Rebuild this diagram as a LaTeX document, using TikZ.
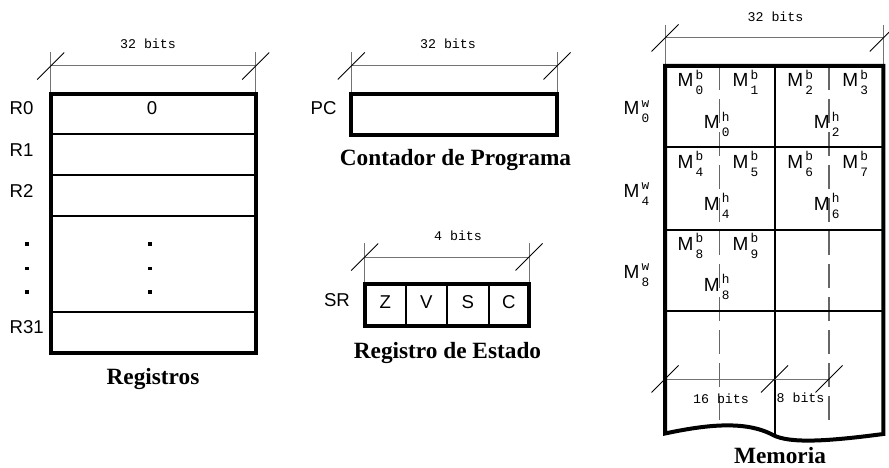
\documentclass[tikz,border=0pt]{standalone}
\usepackage{fontspec}
\setmainfont{Liberation Serif}
\newfontfamily\arialf{Liberation Sans}
\newfontfamily\monof{Liberation Mono}
\newcommand\labf{\arialf\fontsize{18.6}{20}\selectfont}
\newcommand\titf{\bfseries\fontsize{23.3}{26}\selectfont}
\newcommand\dimf{\monof\fontsize{13.3}{15}\selectfont}
\newcommand\smf{\monof\fontsize{12.8}{14}\selectfont}
\newcommand\memM[2]{{\arialf\fontsize{19}{21}\selectfont M}\kern2.2pt\rlap{\raisebox{7.5pt}{\smf #1}}\raisebox{-8pt}{\smf #2}}
\newcommand\dimtick[2]{\draw[tickline] ({#1-13.5},{#2+13.5}) -- ({#1+13.5},{#2-13.5});}
\begin{document}
\begin{tikzpicture}[x=1pt,y=-1pt,
  txt/.style={inner sep=0pt,outer sep=0pt},
  lab/.style={txt,font=\labf,anchor=base west},
  labc/.style={txt,font=\labf,anchor=base},
  ttl/.style={txt,font=\titf,anchor=base},
  dimtxt/.style={txt,font=\dimf,anchor=base},
  mem/.style={txt,anchor=base west},
  thickbox/.style={line width=4pt},
  thinrule/.style={line width=2pt},
  dimline/.style={draw=black!55,line width=1pt},
  tickline/.style={draw=black,line width=0.9pt},
  dashrule/.style={draw=black!60,line width=1.5pt,dash pattern=on 24pt off 9pt}]
\useasboundingbox (0,0) rectangle (889,468);

% ---------------- Registers ----------------
\draw[dimline] (50.7,52) -- (50.7,93);
\draw[dimline] (255.7,52) -- (255.7,93);
\draw[dimline] (50.7,66) -- (255.7,66);
\dimtick{50.7}{66}
\dimtick{255.7}{66}
\node[dimtxt] (regbits) at (148,49) {32 bits};
\foreach \yy in {134,175,216,312} \draw[thinrule] (51.3,\yy) -- (256,\yy);
\draw[thickbox] (51.3,93.7) rectangle (256,352.7);
\node[lab] (r0) at (9.7,115) {R0};
\node[lab] (r1) at (9.7,156.5) {R1};
\node[lab] (r2) at (9.7,197.5) {R2};
\node[lab] (r31) at (9.7,333.5) {R31};
\node[labc] (zero) at (152,115) {0};
\foreach \yy in {243.8,268.5,291.8} {
  \fill (25.4,{\yy-1.8}) rectangle (29,{\yy+1.8});
  \fill (148.2,{\yy-1.8}) rectangle (151.8,{\yy+1.8});
}
\node[ttl] (regtitle) at (153,384) {Registros};

% ---------------- PC ----------------
\draw[dimline] (351.3,52) -- (351.3,93);
\draw[dimline] (557,52) -- (557,93);
\draw[dimline] (351.3,66) -- (557,66);
\dimtick{351.3}{66}
\dimtick{557}{66}
\node[dimtxt] (pcbits) at (448,49) {32 bits};
\draw[thickbox] (351.3,93.7) rectangle (557,135);
\node[lab] (pc) at (310.6,115) {PC};
\node[ttl] (pctitle) at (455.5,165.5) {Contador de Programa};

% ---------------- SR ----------------
\draw[dimline] (364.7,243) -- (364.7,283);
\draw[dimline] (529,243) -- (529,283);
\draw[dimline] (364.7,257) -- (529,257);
\dimtick{364.7}{257}
\dimtick{529}{257}
\node[dimtxt] (srbits) at (458,240) {4 bits};
\foreach \xx in {405.7,446.8,488.5} \draw[thinrule] (\xx,283.7) -- (\xx,326);
\draw[thickbox] (364.7,283.7) rectangle (529,326);
\node[lab] (sr) at (324,306) {SR};
\node[labc] (fz) at (385.2,308) {Z};
\node[labc] (fv) at (426.3,308) {V};
\node[labc] (fs) at (467.7,308) {S};
\node[labc] (fc) at (508.8,308) {C};
\node[ttl] (srtitle) at (447.5,358) {Registro de Estado};

% ---------------- Memory ----------------
\draw[dimline] (665,25) -- (665,66);
\draw[dimline] (883.3,25) -- (883.3,66);
\draw[dimline] (665,38) -- (883.3,38);
\dimtick{665}{38}
\dimtick{883.3}{38}
\node[dimtxt] (membits) at (775.5,21.5) {32 bits};

\draw[dashrule] (719.5,66) -- (719.5,421);
\draw[dashrule] (829,66) -- (829,421);
\foreach \yy in {147,230,311} \draw[thinrule] (665,\yy) -- (883.3,\yy);
\draw[thinrule] (774.5,66) -- (774.5,436);

\draw[dimline] (665,379) -- (829,379);
\dimtick{665}{379}
\dimtick{774.5}{379}
\dimtick{829}{379}
\node[dimtxt] (hbits) at (721,403) {16 bits};
\node[dimtxt] (bbits) at (800.5,402.5) {8 bits};

\draw[thickbox,line join=miter]
  (665,433.5) -- (665,66) -- (883.3,66) -- (883.3,434)
  .. controls (830,441) and (790,444) .. (773,435)
  .. controls (745,420) and (705,425) .. (665,433.5) -- cycle;

% word labels
\node[mem] (mw0) at (623.5,115) {\memM{w}{0}};
\node[mem] (mw4) at (623.5,197) {\memM{w}{4}};
\node[mem] (mw8) at (623.5,278) {\memM{w}{8}};
% row 1
\node[mem] (mb0) at (677.6,87) {\memM{b}{0}};
\node[mem] (mb1) at (732.6,87) {\memM{b}{1}};
\node[mem] (mb2) at (787.4,87) {\memM{b}{2}};
\node[mem] (mb3) at (842.4,87) {\memM{b}{3}};
\node[mem] (mh0) at (703.8,129) {\memM{h}{0}};
\node[mem] (mh2) at (813.8,129) {\memM{h}{2}};
% row 2
\node[mem] (mb4) at (677.6,168) {\memM{b}{4}};
\node[mem] (mb5) at (732.6,168) {\memM{b}{5}};
\node[mem] (mb6) at (787.4,168) {\memM{b}{6}};
\node[mem] (mb7) at (842.4,168) {\memM{b}{7}};
\node[mem] (mh4) at (703.8,210) {\memM{h}{4}};
\node[mem] (mh6) at (813.8,210) {\memM{h}{6}};
% row 3
\node[mem] (mb8) at (677.6,250) {\memM{b}{8}};
\node[mem] (mb9) at (732.6,250) {\memM{b}{9}};
\node[mem] (mh8) at (703.8,291) {\memM{h}{8}};

\node[ttl] (memtitle) at (780,463.5) {Memoria};
\end{tikzpicture}
\end{document}
